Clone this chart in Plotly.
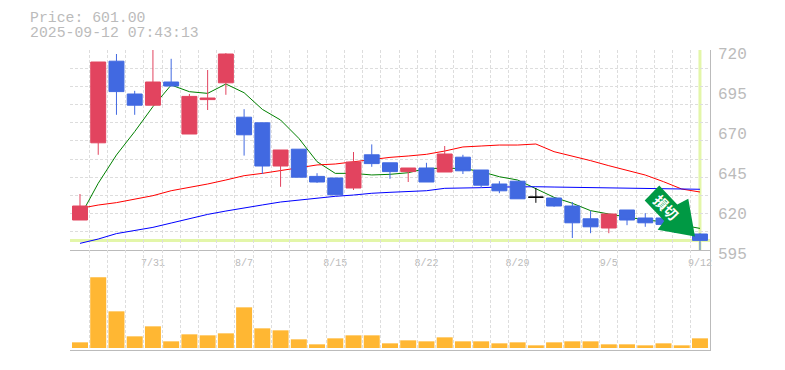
import plotly.graph_objects as go
from plotly.subplots import make_subplots

dates = ["7/25","7/28","7/29","7/30","7/31","8/1","8/4","8/5","8/6","8/7","8/8","8/12","8/13","8/14","8/15",
         "8/18","8/19","8/20","8/21","8/22","8/25","8/26","8/27","8/28","8/29","9/1","9/2","9/3","9/4","9/5",
         "9/8","9/9","9/10","9/11","9/12"]
opens = [613.75,662,713,692.5,685.5,700,667.5,689,699.5,678,674.5,647.5,658,641,640,633.75,654.5,649.5,644,646.25,
         643.75,653,645,636.25,638,628,627.5,622.5,614.5,608.75,620,615,615,610,605]
highs = [630,712.5,717.5,694.5,724,714.5,692.5,707.5,718,683,674.5,657.5,658,643,640,656.25,661,649.5,646.25,649.5,
         660,654.5,645,638,638,633.75,627.5,625,619.5,617.5,620,618,616,611,605.5]
lows = [613.75,654.5,679.5,679.5,685.5,697.5,667.5,682.5,692,654,642.5,634.5,640.5,637,629.5,632.5,647,639.5,637.5,637.5,
        643.75,642.5,633.75,630.5,627,624.5,622,602.5,605.5,605.5,610.5,609.5,610,605,594.5]
closes = [622.5,712.5,694,685.5,700,697.5,691,690,717.5,667,647.5,657.5,640.5,637.5,629.5,650,649,644,646.25,637.5,
          655,644.5,635.5,632,627,628,622.5,612,609.5,617.5,613.75,612,611,606,601]
ma_short = [615.8,636.7,654.4,669,684.6,698.1,693.95,692.9,698.75,693.3,682.9,676.25,664.8,650.2,642.9,642.9,641.9,642.3,
            643.3,646,646,646,644,640.8,638.75,633.5,627.9,624.2,619.6,617.5,615.4,613.75,612.7,610.6,608.5]
ma_mid = [621,623.1,624.6,626.65,628.95,632.05,633.95,636.25,638.75,641.45,642.9,644.55,646.25,648.15,648.75,650.2,651.65,652.9,
          653.75,654.8,656.85,659.4,660,660.6,660.6,661.25,656.45,653.75,650.85,647.7,644.55,641.85,637.7,633.1,631.25]
ma_long = [599.15,601.85,605.25,607.05,609.15,611.85,614.75,617.25,619.35,621.45,623.15,625,626.25,627.5,628.55,629.35,630.45,631.05,
           631.65,632.05,633.55,633.55,633.95,634.35,634.55,634.55,634.35,634.15,634.15,633.75,633.55,633.55,633.55,632.95,632.95]
volumes = [17,212,110,35,65,20,41,38,44,122,59,53,26,11,29,38,38,14,23,20,32,20,20,14,17,8,17,20,20,11,11,8,14,8,29]
price_ticks = [595,620,645,670,695,720]
date_ticks = ["7/31","8/7","8/15","8/22","8/29","9/5","9/12"]
last_price = 601.00
stamp = "2025-09-12 07:43:13"

GRAY = "#bbbbbb"
GRID = "#dddddd"
RED = "#e2445f"
BLUE = "#4169e1"
LIME = "#e3f6a9"
MONO = "Liberation Mono"

idx = list(range(len(dates)))
fig = make_subplots(rows=2, cols=1, shared_xaxes=False, vertical_spacing=0, row_heights=[2/3, 1/3])

doji = [i for i in idx if opens[i] == closes[i]]
regular = [i for i in idx if opens[i] != closes[i]]
pick = lambda a, s: [a[i] for i in s]

for vals, col in ((ma_short, "#008000"), (ma_mid, "#ff0000"), (ma_long, "#0000ff")):
    fig.add_trace(go.Scatter(x=idx, y=vals, mode="lines", line=dict(color=col, width=1), showlegend=False), row=1, col=1)
fig.add_trace(go.Bar(x=idx, y=volumes, width=0.877, marker=dict(color="#ffb733", line=dict(width=0)), showlegend=False), row=2, col=1)
# candles sit on an overlaying axis pair so they are drawn above the moving averages
fig.add_trace(go.Candlestick(
    x=regular, open=pick(opens, regular), high=pick(highs, regular), low=pick(lows, regular), close=pick(closes, regular),
    increasing=dict(line=dict(color=RED, width=1), fillcolor=RED),
    decreasing=dict(line=dict(color=BLUE, width=1), fillcolor=BLUE),
    xaxis="x3", yaxis="y3", showlegend=False))
fig.add_trace(go.Candlestick(
    x=doji, open=pick(opens, doji), high=pick(highs, doji), low=pick(lows, doji), close=pick(closes, doji),
    increasing=dict(line=dict(color="#000000", width=1), fillcolor="#000000"),
    decreasing=dict(line=dict(color="#000000", width=1), fillcolor="#000000"),
    xaxis="x3", yaxis="y3", showlegend=False))

xr = [-0.548, 34.55]
yr = [595, 720]
minor_x = dict(tick0=-0.5, dtick=1, showgrid=True, gridcolor=GRID, griddash="3px,2px", gridwidth=1, ticklen=0)
fig.update_xaxes(range=xr, showgrid=False, zeroline=False, minor=minor_x, rangeslider_visible=False)
fig.update_xaxes(row=1, col=1, tickmode="array", tickvals=[dates.index(d) for d in date_ticks], ticktext=date_ticks,
                 tickfont=dict(family=MONO, size=10, color=GRAY), ticks="", showline=True, linecolor=GRAY, linewidth=1,
                 ticklabelstandoff=3)
fig.update_xaxes(row=2, col=1, showticklabels=False, ticks="", showline=True, linecolor=GRAY, linewidth=1)
fig.update_yaxes(row=1, col=1, range=yr, side="right", showticklabels=False, ticks="", showgrid=False, zeroline=False,
                 showline=True, linecolor=GRAY, linewidth=1,
                 minor=dict(tick0=595, dtick=125/11, showgrid=True, gridcolor=GRID, griddash="3px,2px", gridwidth=1, ticklen=0))
fig.update_yaxes(row=2, col=1, range=[-6, 294], side="right", showticklabels=False, ticks="", showgrid=False, zeroline=False,
                 showline=True, linecolor=GRAY, linewidth=1)
fig.update_layout(
    xaxis3=dict(overlaying="x", anchor="y3", range=xr, visible=False, rangeslider=dict(visible=False)),
    yaxis3=dict(overlaying="y", anchor="x3", range=yr, visible=False, side="right"),
)

fig.add_shape(type="line", xref="x", yref="y", x0=xr[0], x1=xr[1], y0=last_price, y1=last_price,
              line=dict(color=LIME, width=3), layer="below")
fig.add_shape(type="line", xref="x", yref="y", x0=idx[-1], x1=idx[-1], y0=595, y1=720,
              line=dict(color=LIME, width=3), layer="below")
fig.add_shape(type="path", xref="x", yref="y", xsizemode="pixel", ysizemode="pixel", xanchor=idx[-1], yanchor=last_price,
              path="M -40.7 55 L -55.3 40 L -35.7 19.3 L -42.3 10.7 L -5 4 L -11.7 41.7 L -22.7 36 Z",
              fillcolor="#009944", line=dict(width=0), layer="above")

annotations = [
    dict(text="損切", xref="x", yref="y", x=idx[-1], y=last_price, xshift=-34, yshift=33, textangle=45, showarrow=False,
         font=dict(family="Noto Sans CJK JP", size=14, color="#ffffff", weight=700)),
    dict(text="Price: %.2f" % last_price, xref="paper", yref="paper", x=-0.0625, y=1.1067, xanchor="left", yanchor="middle",
         xshift=-2, showarrow=False, font=dict(family=MONO, size=14.8, color=GRAY)),
    dict(text=stamp, xref="paper", yref="paper", x=-0.0625, y=1.0567, xanchor="left", yanchor="middle",
         xshift=-2, showarrow=False, font=dict(family=MONO, size=14.8, color=GRAY)),
]
for p in price_ticks:
    annotations.append(dict(text=str(p), xref="paper", yref="y", x=1, y=p, xshift=6, yshift=-5, xanchor="left", yanchor="middle",
                            showarrow=False, font=dict(family=MONO, size=16, color=GRAY)))

fig.update_layout(width=785, height=370, margin=dict(l=70, r=75, t=50, b=20), paper_bgcolor="#ffffff", plot_bgcolor="#ffffff",
                  boxmode="overlay", boxgap=0.0, boxgroupgap=0.18, annotations=annotations, showlegend=False)
fig.write_html("out.html", post_script="document.body.style.margin='0';", config=dict(displayModeBar=False))
